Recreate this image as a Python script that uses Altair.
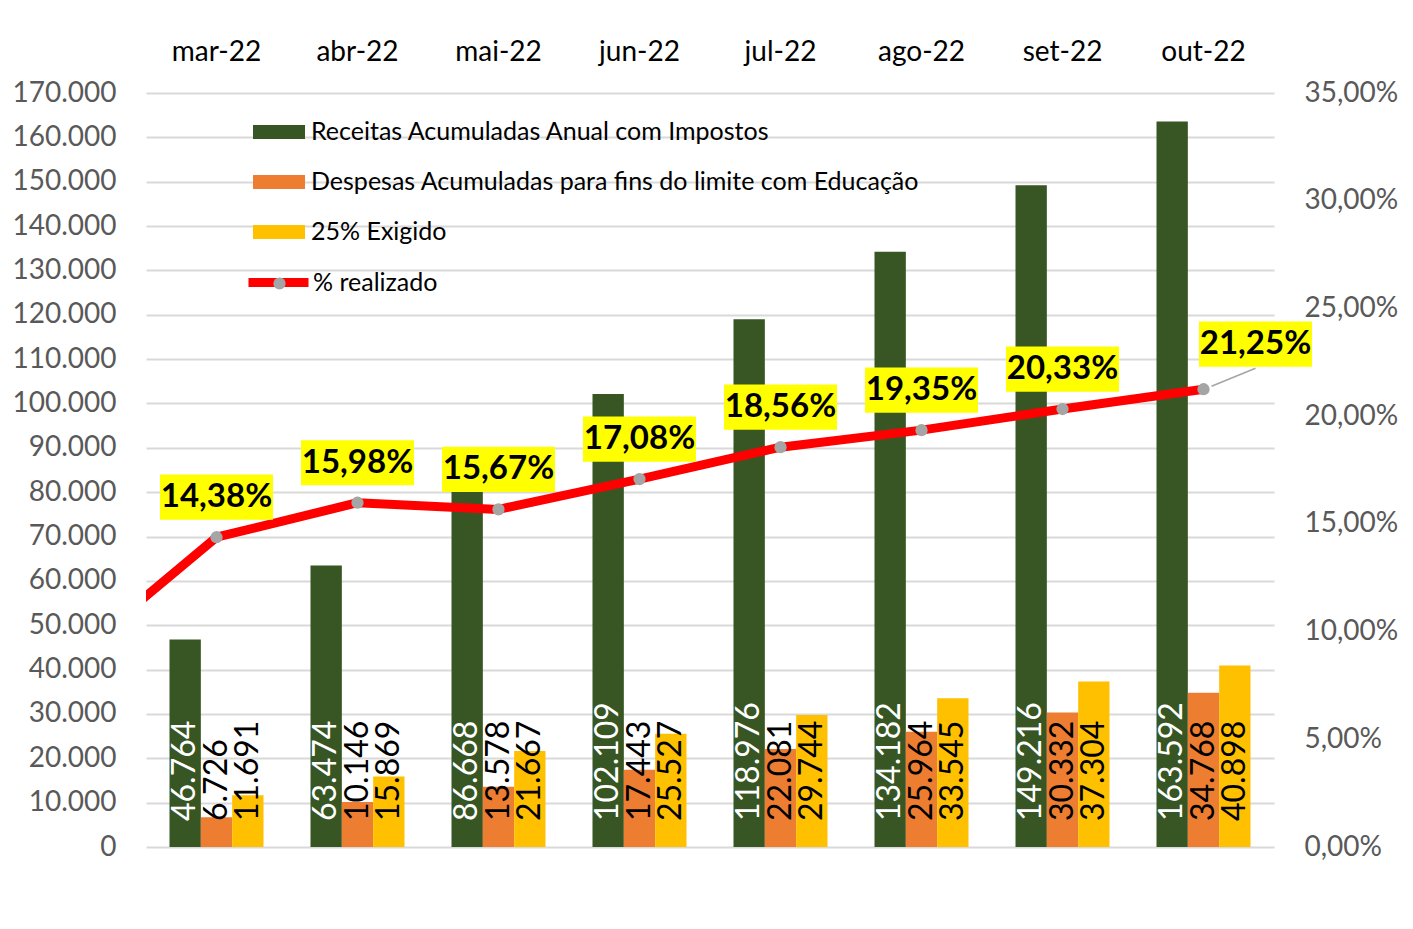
import altair as alt
import pandas as pd

months = ["mar-22", "abr-22", "mai-22", "jun-22", "jul-22", "ago-22", "set-22", "out-22"]
series = ["Receitas Acumuladas Anual com Impostos",
          "Despesas Acumuladas para fins do limite com Educação",
          "25% Exigido"]
receitas = [46764, 63474, 86668, 102109, 118976, 134182, 149216, 163592]
despesas = [6726, 10146, 13578, 17443, 22081, 25964, 30332, 34768]
exigido = [11691, 15869, 21667, 25527, 29744, 33545, 37304, 40898]
pct = [14.38, 15.98, 15.67, 17.08, 18.56, 19.35, 20.33, 21.25]
pct_prev = 8.9  # previous month, only partially visible at the left edge
colors = ["#375623", "#ED7D31", "#FFC000"]
y_ticks = list(range(0, 170001, 10000))
pct_ticks = [0, 5, 10, 15, 20, 25, 30, 35]

FONT = "Lato"

rows = []
for s, vals in zip(series, [receitas, despesas, exigido]):
    for m, v in zip(months, vals):
        rows.append({"mes": m, "serie": s, "valor": v})
bars_df = pd.DataFrame(rows)

line_df = pd.DataFrame({
    "pos": [-0.5] + [i + 0.5 for i in range(len(months))],
    "pct": [pct_prev] + pct,
    "idx": [-1] + list(range(len(months))),
    "linha": ["% realizado"] * (len(months) + 1),
    "ponto": ["ponto"] * (len(months) + 1),
})

base_bar = alt.Chart(bars_df).encode(
    x=alt.X("mes:N", sort=months,
            scale=alt.Scale(paddingInner=1/3, paddingOuter=1/6),
            axis=alt.Axis(orient="top", title=None, labelAngle=0, ticks=False, domain=False,
                          labelFontSize=28, labelColor="#000000", labelFont=FONT,
                          labelPadding=27)),
    xOffset=alt.XOffset("serie:N", sort=series, scale=alt.Scale(paddingInner=0, paddingOuter=0)),
)

bars = base_bar.mark_bar().encode(
    y=alt.Y("valor:Q", scale=alt.Scale(domain=[0, 170000], nice=False),
            axis=alt.Axis(title=None, values=y_ticks, labelExpr="replace(format(datum.value, ','), ',', '.')",
                          ticks=False, domain=False, labelFontSize=28, labelColor="#595959",
                          labelFont=FONT, labelPadding=30, gridColor="#d9d9d9", gridWidth=2)),
    color=alt.Color("serie:N", sort=series, scale=alt.Scale(domain=series, range=colors),
                    legend=alt.Legend(orient="none", legendX=107, legendY=13, title=None,
                                      symbolType="M-1,-0.27L1,-0.27L1,0.27L-1,0.27Z",
                                      symbolSize=2704, symbolStrokeWidth=0, symbolOpacity=1,
                                      labelFontSize=25, labelFont=FONT, labelColor="#000000",
                                      labelLimit=800, rowPadding=11, padding=0, labelOffset=6)),
)

bar_labels = base_bar.mark_text(angle=270, align="left", baseline="middle", dx=26,
                                fontSize=32, font=FONT).transform_calculate(
    lbl="replace(format(datum.valor, ','), ',', '.')", zero="0"
).encode(
    y=alt.Y("zero:Q"),
    text="lbl:N",
    color=alt.condition(alt.datum.serie == series[0], alt.value("white"), alt.value("black")),
)

bar_group = alt.layer(bars, bar_labels)

xq = alt.X("pos:Q", scale=alt.Scale(domain=[0, len(months)], nice=False), axis=None)
yq = alt.Y("pct:Q", scale=alt.Scale(domain=[0, 35], nice=False),
           axis=alt.Axis(orient="right", title=None, values=pct_ticks,
                         labelExpr="replace(format(datum.value, '.2f'), '.', ',') + '%'",
                         ticks=False, domain=False, grid=False, labelFontSize=28,
                         labelColor="#595959", labelFont=FONT, labelPadding=30))

lbase = alt.Chart(line_df).encode(x=xq, y=yq)

line = lbase.mark_line(strokeWidth=9, clip=True, strokeCap="round", strokeJoin="round").encode(
    stroke=alt.Stroke("linha:N", scale=alt.Scale(domain=["% realizado"], range=["#FF0000"]),
                      legend=alt.Legend(orient="none", legendX=98, legendY=155, title=None,
                                        symbolType="stroke", symbolSize=3600, symbolStrokeWidth=9,
                                        labelFontSize=25, labelFont=FONT, labelColor="#000000",
                                        padding=0, labelOffset=0)),
)

visible = lbase.transform_filter("datum.idx >= 0")

points = visible.mark_point(filled=True, size=150, opacity=1, strokeWidth=0).encode(
    fill=alt.Fill("ponto:N", scale=alt.Scale(domain=["ponto"], range=["#A5A5A5"]),
                  legend=alt.Legend(orient="none", legendX=127, legendY=184, title=None,
                                    symbolType="circle", symbolSize=150, labelExpr="''",
                                    padding=0, symbolStrokeWidth=0, symbolOpacity=1)),
)

box_path = "M-1,-0.4L1,-0.4L1,0.4L-1,0.4Z"
first = lbase.transform_filter(f"datum.idx >= 0 && datum.idx < {len(months) - 1}")
last = lbase.transform_filter(f"datum.idx == {len(months) - 1}")

boxes = first.mark_point(shape=box_path, size=12769, filled=True, color="#FFFF00",
                         opacity=1, strokeWidth=0, yOffset=-40)
boxes_last = last.mark_point(shape=box_path, size=12769, filled=True, color="#FFFF00",
                             opacity=1, strokeWidth=0, yOffset=-45, xOffset=52)

pct_text = "replace(format(datum.pct, '.2f'), '.', ',') + '%'"
labels = first.mark_text(fontSize=33, fontWeight="bold", font=FONT, color="black",
                         baseline="middle", align="center", yOffset=-40).transform_calculate(
    lbl=pct_text).encode(text="lbl:N")
labels_last = last.mark_text(fontSize=33, fontWeight="bold", font=FONT, color="black",
                             baseline="middle", align="center", yOffset=-45,
                             xOffset=52).transform_calculate(lbl=pct_text).encode(text="lbl:N")

leader = last.mark_rule(color="#A5A5A5", strokeWidth=1.5, xOffset=8, yOffset=-3,
                        x2Offset=52, y2Offset=-21).encode(x2="pos:Q", y2="pct:Q")

line_group = alt.layer(line, leader, points, boxes, boxes_last, labels, labels_last)

chart = alt.layer(bar_group, line_group).resolve_scale(
    x="independent", y="independent", color="independent", fill="independent", stroke="independent"
).properties(
    width=1128, height=754,
    padding={"top": 30, "left": 3, "right": 5, "bottom": 5},
    background="white",
).configure_view(stroke=None)

chart.save("out.html", embed_options={"renderer": "svg", "actions": False})
